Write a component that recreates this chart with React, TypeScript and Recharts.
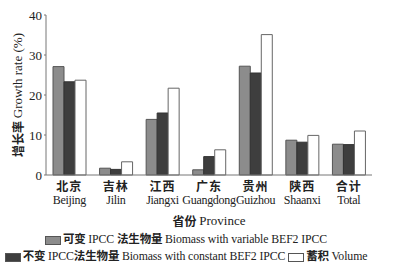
import { BarChart, Bar, XAxis, YAxis, Legend } from 'recharts';

const provincesZh = ['北京', '吉林', '江西', '广东', '贵州', '陕西', '合计'];
const provincesEn = ['Beijing', 'Jilin', 'Jiangxi', 'Guangdong', 'Guizhou', 'Shaanxi', 'Total'];
const variableBef = [27.1, 1.7, 13.9, 1.3, 27.2, 8.7, 7.7];
const constantBef = [23.3, 1.4, 15.5, 4.6, 25.5, 8.2, 7.6];
const volume = [23.7, 3.3, 21.7, 6.3, 35.1, 9.9, 11.0];
const yTicks = [0, 5, 10, 15, 20, 25, 30, 35, 40];

const data = provincesZh.map((zh, i) => ({
  zh,
  en: provincesEn[i],
  variableBef: variableBef[i],
  constantBef: constantBef[i],
  volume: volume[i],
}));

const FONT = "'Liberation Serif', 'Noto Sans CJK SC', serif";
const ZH = "'Noto Sans CJK SC', sans-serif";

function ProvinceTick({ x, y, payload }: any) {
  const row = data.find(d => d.zh === payload.value);
  return (
    <g transform={`translate(${x},${y})`}>
      <text textAnchor="middle" fontFamily={ZH} fontWeight={700} fontSize={12} fill="#222" dy={8} letterSpacing={1}>
        {payload.value}
      </text>
      <text textAnchor="middle" fontFamily={FONT} fontSize={12} fill="#222" dy={21} letterSpacing={-0.3}>
        {row ? row.en : ''}
      </text>
    </g>
  );
}

function YTitle({ viewBox }: any) {
  const cy = viewBox.y + viewBox.height / 2;
  return (
    <text x={17} y={cy} transform={`rotate(-90, 17, ${cy})`} textAnchor="middle" dominantBaseline="central" fontSize={12} fill="#222">
      <tspan fontFamily={ZH} fontWeight={700}>增长率 </tspan>
      <tspan fontFamily={FONT} fontSize={13}>Growth rate (%)</tspan>
    </text>
  );
}

function XTitle({ viewBox }: any) {
  const cx = viewBox.x + viewBox.width / 2;
  return (
    <text x={cx} y={viewBox.y + 45} textAnchor="middle" dominantBaseline="central" fontSize={12} fill="#222">
      <tspan fontFamily={ZH} fontWeight={700}>省份 </tspan>
      <tspan fontFamily={FONT} fontSize={13}>Province</tspan>
    </text>
  );
}

const swatch = (fill: string) => (
  <span style={{ display: 'inline-block', width: 14, height: 7, background: fill, border: '1px solid #555', marginRight: 2, verticalAlign: 'middle' }} />
);

function LegendBox() {
  const zh = { fontFamily: ZH, fontWeight: 700, fontSize: 11.5 } as const;
  return (
    <div style={{ fontFamily: FONT, fontSize: 11.8, color: '#222', textAlign: 'center', lineHeight: '16px', whiteSpace: 'nowrap', letterSpacing: -0.1, marginTop: -2 }}>
      <div>
        {swatch('#8c8c8c')}
        <span style={zh}>可变 </span>IPCC <span style={zh}>法生物量 </span>Biomass with variable BEF2 IPCC
      </div>
      <div>
        {swatch('#3e3e3e')}
        <span style={zh}>不变 </span>IPCC<span style={zh}>法生物量 </span>Biomass with constant BEF2 IPCC{' '}
        {swatch('#ffffff')}
        <span style={zh}>蓄积 </span>Volume
      </div>
    </div>
  );
}

export default function App() {
  return (
    <div style={{ position: 'absolute', left: 0, top: 0, background: '#fff' }}>
      <BarChart
        width={395}
        height={272}
        data={data}
        margin={{ top: 15, right: 23, left: 0, bottom: 0 }}
        barSize={11}
        barGap={0}
      >
        <XAxis
          dataKey="zh"
          tick={<ProvinceTick />}
          tickLine={false}
          axisLine={{ stroke: '#777' }}
          height={57}
          interval={0}
          label={<XTitle />}
        />
        <YAxis
          domain={[0, 40]}
          ticks={yTicks}
          width={46}
          tickSize={2}
          tickLine={{ stroke: '#777' }}
          axisLine={{ stroke: '#777' }}
          tick={{ fontFamily: FONT, fontSize: 13, fill: '#222' }}
          label={<YTitle />}
        />
        <Legend verticalAlign="bottom" height={40} content={<LegendBox />} />
        <Bar dataKey="variableBef" fill="#8c8c8c" stroke="#555" strokeWidth={1} isAnimationActive={false} />
        <Bar dataKey="constantBef" fill="#3e3e3e" stroke="#333" strokeWidth={1} isAnimationActive={false} />
        <Bar dataKey="volume" fill="#ffffff" stroke="#666" strokeWidth={1} isAnimationActive={false} />
      </BarChart>
    </div>
  );
}
